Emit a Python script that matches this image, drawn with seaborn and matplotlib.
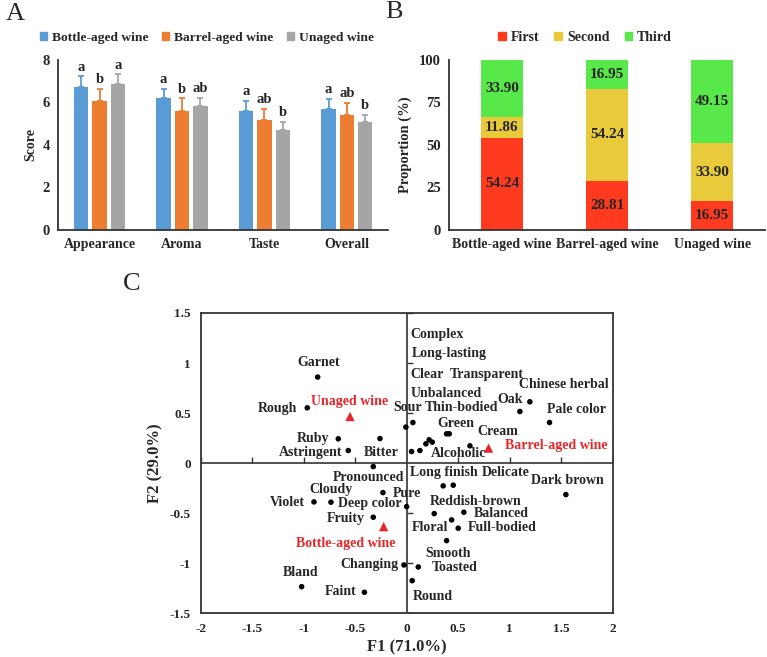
# %%
import pandas as pd
import seaborn as sns
import matplotlib.pyplot as plt
from matplotlib.patches import Patch

# %%
# A: sensory scores (mean and SD) for the three wines
attributes = ["Appearance", "Aroma", "Taste", "Overall"]
wines = ["Bottle-aged wine", "Barrel-aged wine", "Unaged wine"]
bottle_score = [6.74, 6.22, 5.58, 5.67]
barrel_score = [6.08, 5.58, 5.15, 5.42]
unaged_score = [6.84, 5.83, 4.71, 5.06]
bottle_sd = [0.48, 0.43, 0.50, 0.49]
barrel_sd = [0.54, 0.61, 0.55, 0.55]
unaged_sd = [0.47, 0.39, 0.38, 0.36]
bottle_sig = ["a", "a", "a", "a"]
barrel_sig = ["b", "b", "ab", "ab"]
unaged_sig = ["a", "ab", "b", "b"]

# B: ranking proportions (%)
ranks = ["First", "Second", "Third"]
first_pct = [54.24, 28.81, 16.95]
second_pct = [11.86, 54.24, 33.90]
third_pct = [33.90, 16.95, 49.15]

# C: PCA loadings of the descriptors and scores of the wines
terms = [
    "Garnet", "Rough", "Ruby", "Astringent", "Bitter",
    "Complex", "Long-lasting", "Clear", "Transparent", "Unbalanced",
    "Sour", "Thin-bodied", "Green", "Cream", "Alcoholic",
    "Chinese herbal", "Oak", "Pale color",
    "Pronounced", "Cloudy", "Violet", "Deep color", "Pure", "Fruity",
    "Bland", "Faint",
    "Long finish", "Delicate", "Dark brown", "Reddish-brown", "Balanced",
    "Floral", "Full-bodied", "Smooth", "Changing", "Toasted", "Round",
]
f1 = [
    -0.864, -0.965, -0.664, -0.567, -0.259,
    0.187, 0.219, 0.249, 0.388, 0.061,
    -0.007, 0.414, 0.129, 0.615, 0.048,
    1.197, 1.100, 1.388,
    -0.324, -0.735, -0.900, 0.000, -0.230, -0.324,
    -1.020, -0.410,
    0.355, 0.453, 1.547, 0.268, 0.556,
    0.437, 0.501, 0.388, -0.026, 0.113, 0.054,
]
f2 = [
    0.860, 0.553, 0.243, 0.126, 0.246,
    0.193, 0.233, 0.210, 0.293, 0.406,
    0.360, 0.293, 0.126, 0.173, 0.116,
    0.613, 0.516, 0.406,
    -0.034, -0.390, -0.387, -0.434, -0.294, -0.540,
    -1.234, -1.290,
    -0.227, -0.220, -0.314, -0.504, -0.490,
    -0.567, -0.650, -0.774, -1.017, -1.037, -1.174,
]
sample_f1 = [-0.223, 0.796, -0.550]
sample_f2 = [-0.634, 0.150, 0.466]

# where the descriptor labels sit in panel C (x, y, alignment)
label_pos = {
    "Garnet": (-0.858, 1.006, "center"), "Rough": (-1.252, 0.543, "center"),
    "Ruby": (-0.907, 0.243, "center"), "Astringent": (-0.932, 0.110, "center"),
    "Bitter": (-0.250, 0.110, "center"), "Complex": (0.032, 1.283, "left"),
    "Long-lasting": (0.055, 1.093, "left"), "Clear": (0.032, 0.890, "left"),
    "Transparent": (0.420, 0.890, "left"), "Unbalanced": (0.040, 0.700, "left"),
    "Sour": (-0.130, 0.560, "left"), "Thin-bodied": (0.178, 0.560, "left"),
    "Green": (0.479, 0.400, "center"), "Cream": (0.890, 0.313, "center"),
    "Alcoholic": (0.233, 0.093, "left"), "Chinese herbal": (1.093, 0.790, "left"),
    "Oak": (1.003, 0.636, "center"), "Pale color": (1.359, 0.533, "left"),
    "Pronounced": (-0.366, -0.140, "center"), "Cloudy": (-0.735, -0.260, "center"),
    "Violet": (-1.159, -0.394, "center"), "Deep color": (-0.670, -0.407, "left"),
    "Pure": (-0.130, -0.300, "left"), "Fruity": (-0.592, -0.557, "center"),
    "Bland": (-1.026, -1.094, "center"), "Faint": (-0.641, -1.284, "center"),
    "Long finish": (0.035, -0.094, "left"), "Delicate": (0.728, -0.094, "left"),
    "Dark brown": (1.204, -0.177, "left"), "Reddish-brown": (0.226, -0.384, "left"),
    "Balanced": (0.657, -0.500, "left"), "Floral": (0.226, -0.644, "center"),
    "Full-bodied": (0.598, -0.644, "left"), "Smooth": (0.398, -0.900, "center"),
    "Changing": (-0.363, -1.010, "center"), "Toasted": (0.243, -1.044, "left"),
    "Round": (0.252, -1.334, "center"),
}
sample_label_pos = [(-0.592, -0.800, "center"), (0.954, 0.176, "left"),
                    (-0.550, 0.616, "center")]

# %%
sns.set_theme(style="white")
plt.rcParams["font.family"] = ["Liberation Serif", "DejaVu Serif"]
plt.rcParams["font.weight"] = "bold"
plt.rcParams["axes.labelweight"] = "bold"

line_col = "#333333"
wine_colors = ["#5B9BD5", "#ED7D31", "#A5A5A5"]
rank_colors = ["#FF3A1E", "#E8CA3A", "#58E84A"]
red = "#E8262A"

fig = plt.figure(figsize=(7.67, 6.57), dpi=100)
axA = fig.add_axes([0.076, 0.650, 0.430, 0.259])
axB = fig.add_axes([0.586, 0.650, 0.411, 0.259])
axC = fig.add_axes([0.2617, 0.0665, 0.5369, 0.4571])

# %%
# A
dfA = pd.DataFrame({
    "attribute": attributes * 3,
    "wine": [w for w in wines for _ in attributes],
    "score": bottle_score + barrel_score + unaged_score,
    "sd": bottle_sd + barrel_sd + unaged_sd,
    "sig": bottle_sig + barrel_sig + unaged_sig,
})
sns.barplot(data=dfA, x="attribute", y="score", hue="wine", palette=wine_colors,
            width=0.667, gap=0.21, errorbar=None, saturation=1, linewidth=0,
            ax=axA, legend=False)

for cont, wine, col in zip(axA.containers, wines, wine_colors):
    sub = dfA[dfA["wine"] == wine]
    xs = [p.get_x() + p.get_width() / 2 for p in cont.patches]
    axA.errorbar(xs, sub["score"], yerr=[[0] * len(xs), sub["sd"]], fmt="none",
                 ecolor=col, elinewidth=1.3, capsize=2.5, capthick=1.3)
    for x, top, s in zip(xs, sub["score"] + sub["sd"], sub["sig"]):
        axA.annotate(s, (x, top), xytext=(0, 2), textcoords="offset points",
                     ha="center", va="bottom", fontsize=10.5, fontweight="bold")

axA.set_xlim(-0.5, 3.5)
axA.set_ylim(0, 8)
axA.set_yticks([0, 2, 4, 6, 8])
axA.set_xlabel("")
axA.set_ylabel("Score", fontsize=10, labelpad=4)
axA.legend(handles=[Patch(color=c, label=w) for c, w in zip(wine_colors, wines)],
           loc="lower center", bbox_to_anchor=(0.45, 1.06), ncol=3, frameon=False,
           fontsize=9.7, handlelength=0.55, handleheight=0.55, handletextpad=0.35,
           columnspacing=1.0, borderaxespad=0)

# %%
# B: stacked by drawing cumulative totals from the top down
cum2 = [a + b for a, b in zip(first_pct, second_pct)]
cum3 = [a + b for a, b in zip(cum2, third_pct)]
for heights, col in zip([cum3, cum2, first_pct], rank_colors[::-1]):
    sns.barplot(x=wines, y=heights, color=col, width=0.4, errorbar=None,
                saturation=1, linewidth=0, ax=axB)

for i in range(len(wines)):
    bottoms = [0, first_pct[i], cum2[i]]
    for b, v in zip(bottoms, [first_pct[i], second_pct[i], third_pct[i]]):
        axB.text(i, b + v / 2, f"{v:.2f}", ha="center", va="center",
                 fontsize=11, fontweight="bold")

axB.set_xlim(-0.5, 2.5)
axB.set_ylim(0, 100)
axB.set_yticks([0, 25, 50, 75, 100])
axB.set_ylabel("Proportion (%)", fontsize=10.5, labelpad=5)
axB.legend(handles=[Patch(color=c, label=r) for c, r in zip(rank_colors, ranks)],
           loc="lower center", bbox_to_anchor=(0.43, 1.06), ncol=3, frameon=False,
           fontsize=10, handlelength=0.55, handleheight=0.55, handletextpad=0.35,
           columnspacing=1.1, borderaxespad=0)

for ax in (axA, axB):
    sns.despine(ax=ax)
    for side in ("left", "bottom"):
        ax.spines[side].set_color(line_col)
        ax.spines[side].set_linewidth(1.3)
    ax.tick_params(axis="y", direction="in", length=4, width=1.1, color=line_col,
                   labelsize=10.5, pad=6)
    ax.tick_params(axis="x", length=0, labelsize=10, pad=6)

# %%
# C
dfC = pd.DataFrame({"term": terms, "F1": f1, "F2": f2})
sns.scatterplot(data=dfC, x="F1", y="F2", color="black", s=16, edgecolor="none",
                ax=axC, zorder=3)
sns.scatterplot(x=sample_f1, y=sample_f2, color=red, marker="^", s=45,
                edgecolor="none", ax=axC, zorder=3)

for t in terms:
    x, y, ha = label_pos[t]
    axC.text(x, y, t, ha=ha, va="center", fontsize=10, fontweight="bold")
for w, (x, y, ha) in zip(wines, sample_label_pos):
    axC.text(x, y, w, ha=ha, va="center", fontsize=10, fontweight="bold", color=red)

axC.axhline(0, color=line_col, lw=1.2, zorder=1)
axC.axvline(0, color=line_col, lw=1.2, zorder=1)
xt = [-2, -1.5, -1, -0.5, 0, 0.5, 1, 1.5, 2]
yt = [-1.5, -1, -0.5, 0, 0.5, 1, 1.5]
axC.plot([v for v in xt if v != 0], [0] * 8, ls="none", marker=2, ms=4,
         mew=1, color=line_col)
axC.plot([0] * 6, [v for v in yt if v != 0], ls="none", marker=1, ms=4,
         mew=1, color=line_col)

axC.set_xlim(-2, 2)
axC.set_ylim(-1.5, 1.5)
axC.set_xticks(xt, ["-2", "-1.5", "-1", "-0.5", "0", "0.5", "1", "1.5", "2"])
axC.set_yticks(yt, ["-1.5", "-1", "-0.5", "0", "0.5", "1", "1.5"])
axC.tick_params(length=0, labelsize=9.5, pad=7)
axC.set_xlabel("F1 (71.0%)", fontsize=12, labelpad=3)
axC.set_ylabel("F2 (29.0%)", fontsize=12, labelpad=5)
for s in axC.spines.values():
    s.set_color(line_col)
    s.set_linewidth(1.3)

# panel letters
fig.text(0.008, 0.978, "A", fontsize=19, fontweight="normal", va="center")
fig.text(0.502, 0.982, "B", fontsize=19, fontweight="normal", va="center")
fig.text(0.160, 0.567, "C", fontsize=19, fontweight="normal", va="center")

fig.savefig("out.png", dpi=100)
